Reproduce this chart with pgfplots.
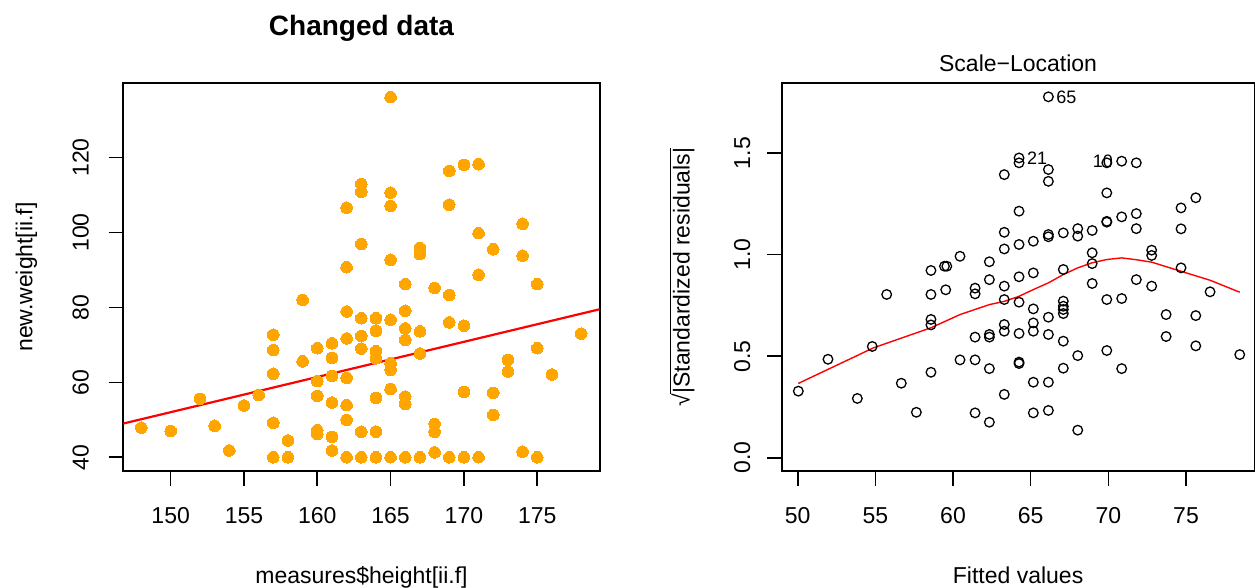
\documentclass[border=0pt]{standalone}
\usepackage{fontspec}
\setmainfont{Liberation Sans}
\usepackage{pgfplots}
\pgfplotsset{compat=1.18}
\definecolor{rorange}{RGB}{255,165,0}
\definecolor{rred}{RGB}{255,0,0}
\pgfplotstableread{
x y
148 47.9
150 47.0
152 55.6
153 48.4
154 41.8
155 53.8
156 56.6
157 72.7
157 68.6
157 62.3
157 49.2
157 40.0
158 44.5
158 40.0
159 82.0
159 65.6
160 69.1
160 60.3
160 56.4
160 47.2
160 46.2
161 70.4
161 66.5
161 61.7
161 54.6
161 45.4
161 41.8
162 106.6
162 90.7
162 78.9
162 71.7
162 61.2
162 53.9
162 50.0
162 40.0
163 112.9
163 110.8
163 96.9
163 77.1
163 72.4
163 69.0
163 46.8
163 40.0
164 77.1
164 73.7
164 68.3
164 66.4
164 55.8
164 46.8
164 40.0
165 136.1
165 110.6
165 107.1
165 92.7
165 76.7
165 65.1
165 63.3
165 58.2
165 40.0
166 86.2
166 79.1
166 74.4
166 71.3
166 56.2
166 54.2
166 40.0
167 95.8
167 94.2
167 73.6
167 67.7
167 40.0
168 85.2
168 48.9
168 46.8
168 41.3
169 116.4
169 107.4
169 83.3
169 76.0
169 40.0
170 118.0
170 75.1
170 57.4
170 40.0
171 118.2
171 99.8
171 88.7
171 40.0
172 95.5
172 57.2
172 51.3
173 66.0
173 62.9
174 102.3
174 93.8
174 41.5
175 86.2
175 69.1
175 40.0
176 62.1
178 73.0
}\leftdata
\pgfplotstableread{
x y
50.04 0.328
51.95 0.485
53.84 0.292
54.80 0.548
55.73 0.804
56.67 0.367
57.64 0.224
58.58 0.922
58.58 0.804
58.58 0.681
58.58 0.654
58.58 0.421
59.45 0.943
59.60 0.943
59.53 0.827
60.45 0.992
60.45 0.482
61.42 0.835
61.42 0.807
61.42 0.594
61.42 0.482
61.42 0.221
62.34 0.965
62.34 0.877
62.34 0.607
62.34 0.594
62.34 0.439
62.34 0.175
63.30 1.394
63.30 1.110
63.30 1.028
63.30 0.845
63.30 0.779
63.30 0.656
63.30 0.623
63.30 0.312
64.25 1.476
64.25 1.452
64.25 1.214
64.25 1.050
64.25 0.891
64.25 0.766
64.25 0.612
64.25 0.471
64.25 0.464
65.17 1.066
65.17 0.910
65.17 0.733
65.17 0.664
65.17 0.623
65.17 0.372
65.17 0.221
66.14 1.777
66.14 1.419
66.14 1.361
66.14 1.099
66.14 1.088
66.14 0.692
66.14 0.607
66.14 0.372
66.14 0.233
67.10 1.107
67.10 0.927
67.10 0.771
67.10 0.746
67.10 0.730
67.10 0.710
67.10 0.574
67.10 0.441
68.03 1.128
68.03 1.091
68.03 0.503
68.03 0.136
68.96 1.119
68.96 1.009
68.96 0.956
68.96 0.858
69.90 1.452
69.90 1.304
69.90 1.164
69.90 1.160
69.90 0.779
69.90 0.528
70.86 1.460
70.86 1.186
70.86 0.784
70.86 0.439
71.80 1.452
71.80 1.202
71.80 1.128
71.80 0.877
72.79 1.022
72.79 0.996
72.79 0.845
73.72 0.705
73.72 0.597
74.68 1.230
74.68 1.127
74.68 0.935
75.63 1.280
75.63 0.700
75.63 0.551
76.55 0.817
78.46 0.508
}\rightdata
\pgfplotstableread{
x y
50.04 0.366
54.87 0.541
58.58 0.640
60.45 0.705
62.34 0.754
63.30 0.770
64.25 0.795
65.17 0.828
66.14 0.861
67.10 0.902
68.03 0.935
68.96 0.960
69.90 0.976
70.86 0.984
71.80 0.975
72.79 0.963
74.68 0.918
76.55 0.874
78.46 0.815
}\loessdata
\pgfplotsset{
  rbase/.style={
    scale only axis,
    anchor=south west,
    axis line style={line width=0.8pt},
    every tick/.style={line width=0.8pt, black},
    tick align=outside,
    major tick length=7.3pt,
    tick pos=left,
    /pgf/number format/assume math mode=true,
    ticklabel style={font=\fontsize{11.5}{13}\selectfont},
    xticklabel style={anchor=base, yshift=-19pt},
    label style={font=\fontsize{11.5}{13}\selectfont},
    xlabel style={at={(axis description cs:0.5,0)}, anchor=base, yshift=-56.2pt},
  }
}
\begin{document}
\begin{tikzpicture}
\path[use as bounding box] (0,0) rectangle (627.5pt,294pt);
\begin{axis}[rbase,
  at={(61.65pt,58.5pt)}, width=238.2pt, height=194pt,
  xmin=146.77, xmax=179.26, ymin=36.34, ymax=139.87,
  xtick={150,155,160,165,170,175}, ytick={40,60,80,100,120},
  yticklabel style={rotate=90, anchor=base, yshift=10pt},
  title={Changed data},
  title style={at={(axis description cs:0.5,1)}, anchor=center, yshift=21.3pt, font=\bfseries\fontsize{14}{16}\selectfont},
  xlabel={measures\$height[ii.f]},
  ylabel={new.weight[ii.f]},
  ylabel style={at={(axis description cs:-0.191,0.5)}, anchor=base},
]
\addplot[only marks, mark=*, mark size=2.9pt, mark options={fill=rorange, draw=rorange, line width=0pt}] table[x=x,y=y] {\leftdata};
\addplot[rred, line width=1.1pt] coordinates {(146.77,49.0) (179.26,79.5)};
\end{axis}
\begin{axis}[rbase,
  at={(390.85pt,58.5pt)}, width=236.4pt, height=194pt,
  xmin=48.97, xmax=79.41, ymin=-0.065, ymax=1.845,
  xtick={50,55,60,65,70,75}, ytick={0,0.5,1,1.5},
  yticklabel style={rotate=90, anchor=base, yshift=8.5pt, /pgf/number format/.cd, fixed, fixed zerofill, precision=1},
  title={Scale\textminus Location},
  title style={at={(axis description cs:0.5,1)}, anchor=center, yshift=3.7pt, font=\fontsize{11.5}{13}\selectfont},
  xlabel={Fitted values},
  ylabel={√\(\overline{\mbox{|Standardized residuals|}}\)},
  ylabel style={at={(axis description cs:-0.195,0.5)}, anchor=base},
]
\addplot[only marks, mark=o, mark size=2.4pt, mark options={draw=black, line width=0.65pt}] table[x=x,y=y] {\rightdata};
\addplot[rred, line width=0.7pt] table[x=x,y=y] {\loessdata};
\node[anchor=west, inner sep=0pt, xshift=3.8pt, font=\fontsize{9}{10}\selectfont] at (axis cs:66.14,1.777) {65};
\node[anchor=west, inner sep=0pt, xshift=3.8pt, font=\fontsize{9}{10}\selectfont] at (axis cs:64.25,1.476) {21};
\node[anchor=east, inner sep=0pt, xshift=-4.2pt, font=\fontsize{9}{10}\selectfont] at (axis cs:70.86,1.460) {10};
\end{axis}
\end{tikzpicture}
\end{document}
